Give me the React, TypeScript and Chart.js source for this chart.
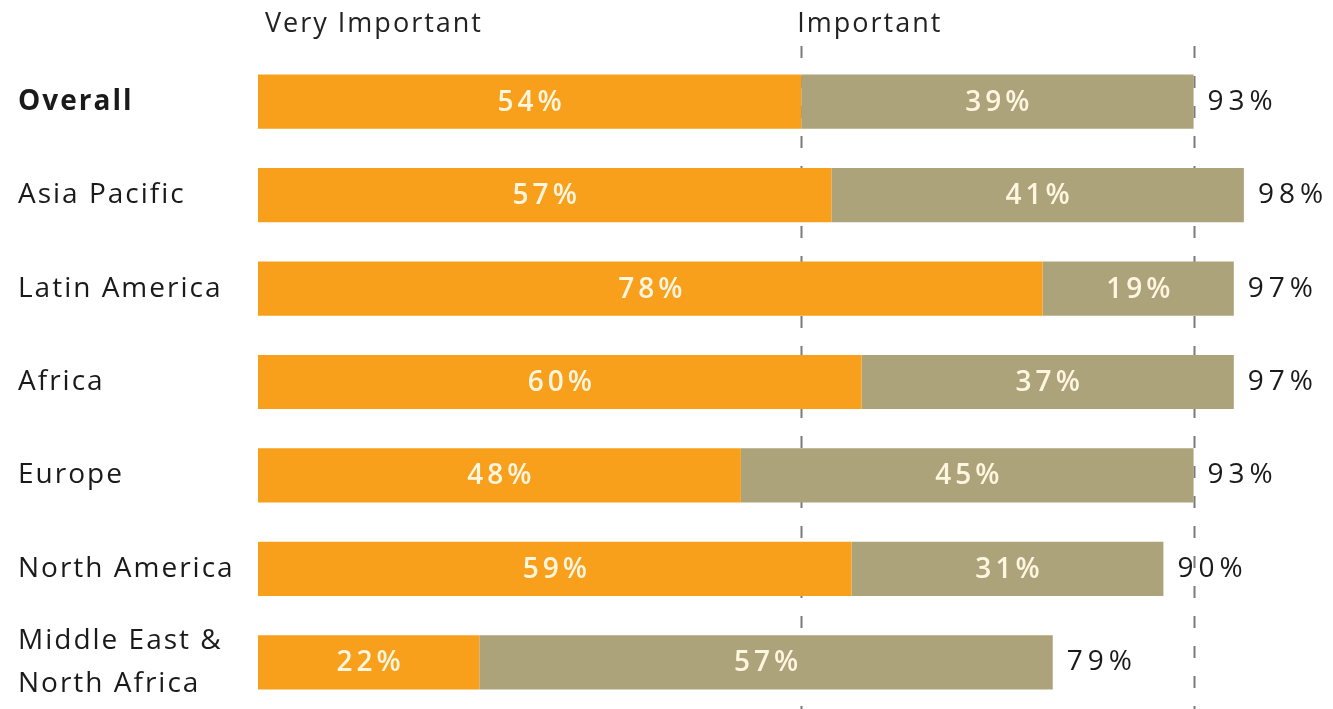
import React, { useEffect, useRef } from "react";
import { Chart, registerables } from "chart.js";

Chart.register(...registerables);

const categories: string[][] = [
  ["Overall"],
  ["Asia Pacific"],
  ["Latin America"],
  ["Africa"],
  ["Europe"],
  ["North America"],
  ["Middle East &", "North Africa"],
];
const veryImportant = [54, 57, 78, 60, 48, 59, 22];
const important = [39, 41, 19, 37, 45, 31, 57];
const totals = [93, 98, 97, 97, 93, 90, 79];
const headerLabels = ["Very Important", "Important"];
const referenceLines = [54, 93];

const ORANGE = "#F8A01C";
const OLIVE = "#ADA37B";
const FONT = "'Open Sans', 'DejaVu Sans', sans-serif";

const overlayPlugin = {
  id: "overlay",
  beforeDatasetsDraw(chart: any) {
    const { ctx } = chart;
    const x = chart.scales.x;
    ctx.save();
    ctx.strokeStyle = "#7a7a7a";
    ctx.lineWidth = 2;
    ctx.setLineDash([12, 18]);
    referenceLines.forEach((v) => {
      const px = Math.round(x.getPixelForValue(v)) + 0.5;
      ctx.beginPath();
      ctx.moveTo(px, 46);
      ctx.lineTo(px, chart.height);
      ctx.stroke();
    });
    ctx.restore();
  },
  afterDatasetsDraw(chart: any) {
    const { ctx } = chart;
    const x = chart.scales.x;
    const y = chart.scales.y;
    ctx.save();
    ctx.textBaseline = "middle";
    ctx.textAlign = "left";
    // header labels
    ctx.fillStyle = "#222";
    ctx.font = `27px ${FONT}`;
    ctx.letterSpacing = "2px";
    ctx.fillText(headerLabels[0], x.getPixelForValue(0) + 7, 24);
    ctx.fillText(headerLabels[1], x.getPixelForValue(referenceLines[0]) - 4, 24);

    // category labels
    ctx.letterSpacing = "2px";
    categories.forEach((lines, i) => {
      const cy = y.getPixelForValue(i);
      ctx.font = `${i === 0 ? 700 : 500} 28px ${FONT}`;
      ctx.fillStyle = "#1a1a1a";
      const lh = 43;
      lines.forEach((t, j) => {
        const off = (j - (lines.length - 1) / 2) * lh;
        ctx.fillText(t, 18, cy + off);
      });
    });

    // values in bars
    ctx.font = `600 28px ${FONT}`;
    ctx.letterSpacing = "4px";
    ctx.textAlign = "center";
    ctx.fillStyle = "#FFF6E0";
    chart.data.datasets.forEach((ds: any, di: number) => {
      const meta = chart.getDatasetMeta(di);
      meta.data.forEach((bar: any, i: number) => {
        const cx = (bar.x + bar.base) / 2 + 2;
        ctx.fillText(`${ds.data[i]}%`, cx, bar.y + 1);
      });
    });

    // totals
    ctx.font = `28px ${FONT}`;
    ctx.letterSpacing = "5px";
    ctx.textAlign = "left";
    ctx.fillStyle = "#1a1a1a";
    const meta = chart.getDatasetMeta(1);
    meta.data.forEach((bar: any, i: number) => {
      ctx.fillText(`${totals[i]}%`, bar.x + 14, bar.y);
    });
    ctx.restore();
  },
};

export default function App() {
  const ref = useRef<HTMLCanvasElement | null>(null);
  useEffect(() => {
    if (!ref.current) return;
    const chart = new Chart(ref.current, {
      type: "bar",
      data: {
        labels: categories.map((c) => c.join(" ")),
        datasets: [
          {
            label: headerLabels[0],
            data: veryImportant,
            backgroundColor: ORANGE,
            categoryPercentage: 0.58,
            barPercentage: 1,
          },
          {
            label: headerLabels[1],
            data: important,
            backgroundColor: OLIVE,
            categoryPercentage: 0.58,
            barPercentage: 1,
          },
        ],
      },
      options: {
        indexAxis: "y",
        animation: false,
        responsive: false,
        maintainAspectRatio: false,
        layout: { padding: { left: 258, right: 69, top: 55, bottom: 0 } },
        plugins: {
          legend: { display: false },
          tooltip: { enabled: false },
        },
        scales: {
          x: { stacked: true, min: 0, max: 100, display: false },
          y: { stacked: true, display: false },
        },
      },
      plugins: [overlayPlugin],
    });
    return () => chart.destroy();
  }, []);
  return (
    <div style={{ position: "fixed", left: 0, top: 0, width: 1333, height: 709, background: "#fff" }}>
      <canvas ref={ref} width={1333} height={709} style={{ width: 1333, height: 709 }} />
    </div>
  );
}
